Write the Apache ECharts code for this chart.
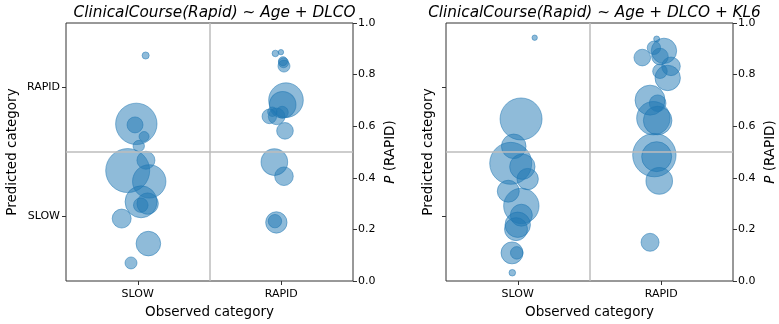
<!DOCTYPE html>
<html>
<head>
<meta charset="utf-8">
<script src="https://cdn.jsdelivr.net/npm/echarts@6/dist/echarts.min.js"></script>
<style>
  html, body { margin: 0; padding: 0; background: #fff; }
  #main { width: 779px; height: 324px; }
</style>
</head>
<body>
<div id="main"></div>
<script>
// observed category: 0 = SLOW, 1 = RAPID (with jitter); p = P(RAPID); w = patient weight (bubble area)
const titles = ['ClinicalCourse(Rapid) ~ Age + DLCO', 'ClinicalCourse(Rapid) ~ Age + DLCO + KL6'];
const categoryLabels = ['SLOW', 'RAPID'];

// model 1: Age + DLCO   [x, p, w]
const model1Slow = [
    [0.055, 0.874, 1.4], [-0.010, 0.609, 47.6], [-0.019, 0.605, 7.1], [0.044, 0.560, 2.8],
    [0.007, 0.523, 3.6], [-0.070, 0.428, 53.8], [0.057, 0.468, 9.0], [0.080, 0.386, 31.0],
    [0.023, 0.307, 28.4], [0.069, 0.300, 12.7], [0.021, 0.294, 5.9], [-0.112, 0.242, 10.0],
    [0.074, 0.145, 16.8], [-0.047, 0.070, 4.0]
];
const model1Rapid = [
    [0.959, 0.882, 1.2], [0.998, 0.887, 0.8], [1.012, 0.852, 2.3], [1.016, 0.846, 2.8],
    [1.019, 0.833, 4.0], [1.033, 0.701, 33.3], [1.010, 0.683, 19.7], [0.917, 0.638, 5.9],
    [0.968, 0.638, 7.7], [1.007, 0.654, 4.0], [0.938, 0.656, 2.5], [1.026, 0.582, 7.7],
    [0.952, 0.461, 19.7], [1.019, 0.406, 9.6], [0.966, 0.227, 12.7], [0.956, 0.232, 5.0]
];
// model 2: Age + DLCO + KL6
const model2Slow = [
    [0.118, 0.943, 0.8], [0.023, 0.628, 49.0], [-0.028, 0.522, 16.8], [-0.049, 0.456, 49.0],
    [0.032, 0.443, 17.9], [0.069, 0.395, 12.7], [-0.066, 0.348, 13.4], [0.025, 0.291, 34.8],
    [0.025, 0.255, 13.4], [0.000, 0.218, 17.9], [-0.012, 0.201, 14.7], [-0.040, 0.109, 13.4],
    [-0.007, 0.109, 4.4], [-0.038, 0.032, 1.2]
];
const model2Rapid = [
    [0.968, 0.938, 1.0], [1.019, 0.892, 17.9], [0.949, 0.904, 5.0], [0.868, 0.866, 7.7],
    [0.991, 0.870, 7.7], [1.068, 0.832, 9.6], [0.991, 0.813, 5.9], [1.045, 0.787, 17.9],
    [0.922, 0.701, 25.0], [0.975, 0.689, 7.7], [0.945, 0.631, 31.0], [0.975, 0.622, 22.7],
    [0.952, 0.488, 52.3], [0.968, 0.482, 25.0], [0.986, 0.388, 19.7], [0.922, 0.150, 9.0]
];

const blue = '#1f77b4';
const spine = '#333';
const gridLefts = [66, 446];
const leftNameGaps = [47, 11];
const fontName = 'DejaVu Sans';

function bubbleSize(v) {
    return 6 * Math.sqrt(v[2]);
}

const grids = [], xAxes = [], yAxes = [], series = [], titleList = [];
[0, 1].forEach(i => {
    grids.push({
        left: gridLefts[i], top: 23, width: 287, height: 262,
        show: true, borderColor: spine, borderWidth: 1, backgroundColor: 'transparent'
    });
    titleList.push({
        text: titles[i],
        left: gridLefts[i] + 143.5, top: 1, textAlign: 'center',
        textStyle: { fontFamily: fontName, fontStyle: 'italic', fontWeight: 'normal', fontSize: 15.3, color: '#000' }
    });
    // observed category (labels only)
    xAxes.push({
        gridIndex: i, type: 'category', data: categoryLabels, boundaryGap: true, position: 'bottom',
        name: 'Observed category', nameLocation: 'middle', nameGap: 24,
        nameTextStyle: { fontFamily: fontName, fontSize: 13.5, color: '#000' },
        axisLine: { show: false, onZero: false },
        splitLine: { show: false },
        axisTick: { show: true, length: 4, alignWithLabel: true, lineStyle: { color: spine } },
        axisLabel: { margin: 8, fontFamily: fontName, fontSize: 11, color: '#000' }
    });
    // value axis that places the jittered points
    xAxes.push({
        gridIndex: i, type: 'value', min: -0.5, max: 1.5, show: false,
        axisLine: { onZero: false }
    });
    // left: predicted category
    yAxes.push({
        gridIndex: i, type: 'category', data: categoryLabels, boundaryGap: true, position: 'left',
        name: 'Predicted category', nameLocation: 'middle', nameGap: leftNameGaps[i],
        nameTextStyle: { fontFamily: fontName, fontSize: 13.5, color: '#000' },
        axisLine: { show: false, onZero: false },
        splitLine: { show: false },
        axisTick: { show: true, length: 4, alignWithLabel: true, lineStyle: { color: spine } },
        axisLabel: {
            margin: 6, fontFamily: fontName, fontSize: 11, color: '#000',
            formatter: v => i === 0 ? v : ''
        }
    });
    // right: probability
    yAxes.push({
        gridIndex: i, type: 'value', min: 0, max: 1, interval: 0.2, position: 'right',
        name: '{i|P} (RAPID)', nameLocation: 'middle', nameGap: 30,
        nameTextStyle: {
            fontFamily: fontName, fontSize: 13.5, color: '#000',
            rich: { i: { fontFamily: fontName, fontSize: 13.5, fontStyle: 'italic', color: '#000' } }
        },
        axisLine: { show: false, onZero: false },
        splitLine: { show: false },
        axisTick: { show: true, length: 4, lineStyle: { color: spine } },
        axisLabel: {
            margin: 5, fontFamily: fontName, fontSize: 11, color: '#000',
            formatter: v => v.toFixed(1)
        }
    });
});

const panelData = [model1Slow.concat(model1Rapid), model2Slow.concat(model2Rapid)];
panelData.forEach((d, i) => {
    series.push({
        type: 'scatter',
        xAxisIndex: i * 2 + 1, yAxisIndex: i * 2 + 1,
        data: d,
        symbolSize: bubbleSize,
        itemStyle: { color: blue, opacity: 0.5, borderColor: blue, borderWidth: 1 },
        silent: true,
        markLine: {
            silent: true, symbol: 'none', animation: false,
            label: { show: false },
            lineStyle: { color: '#bdbdbd', width: 1.5, type: 'solid' },
            data: [{ yAxis: 0.5 }, { xAxis: 0.5 }]
        }
    });
});

const chart = echarts.init(document.getElementById('main'), null, { renderer: 'canvas' });
chart.setOption({
    animation: false,
    title: titleList,
    grid: grids,
    xAxis: xAxes,
    yAxis: yAxes,
    series: series
});
</script>
</body>
</html>
